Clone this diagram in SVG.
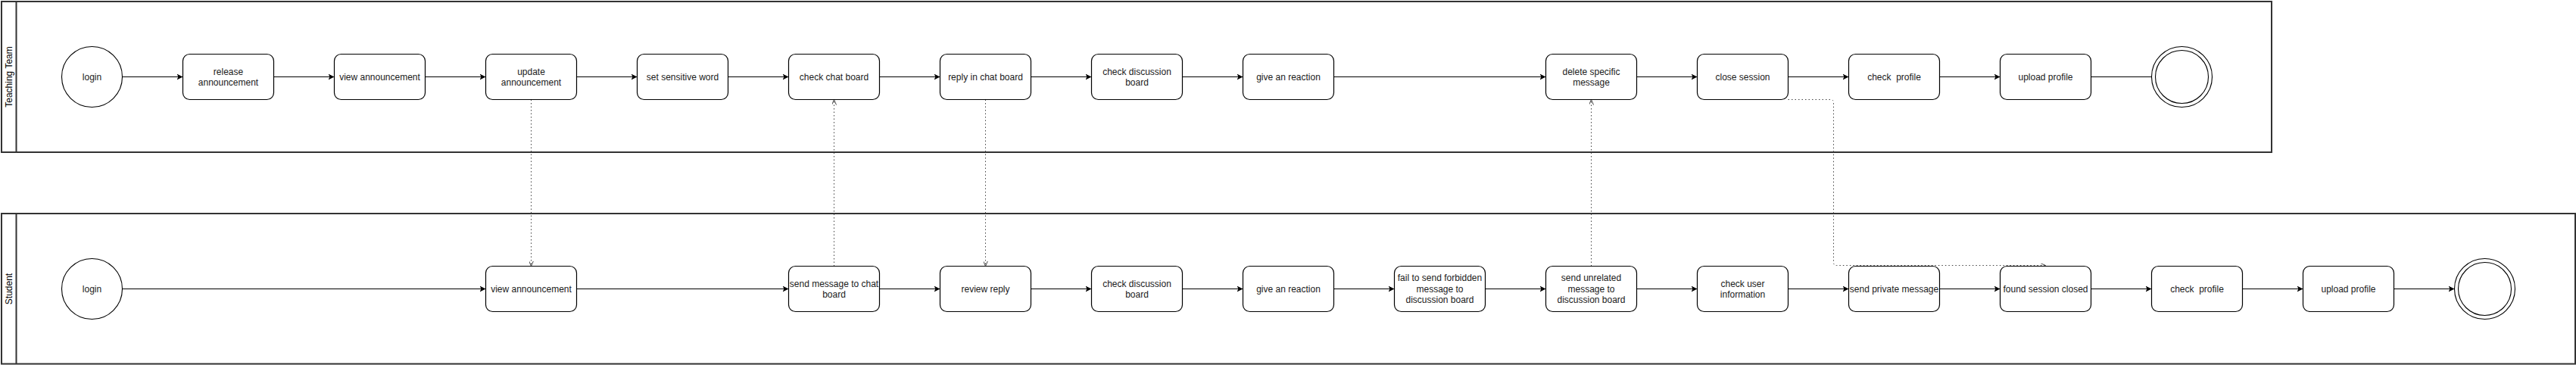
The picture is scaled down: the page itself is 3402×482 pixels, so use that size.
<svg xmlns="http://www.w3.org/2000/svg" width="3402" height="482" viewBox="0 0 3402 482">
<style>
.lane{fill:#fff;stroke:#333;stroke-width:2}
.hdr{fill:none;stroke:#333;stroke-width:2}
.box{fill:#fff;stroke:#000;stroke-width:1.2}
.circ{fill:#fff;stroke:#000;stroke-width:1.1}
.t{font-family:"Liberation Sans",Arial,Helvetica,sans-serif;font-size:12px;fill:#1a1a1a;text-anchor:middle;white-space:pre}
.lt{font-family:"Liberation Sans",Arial,Helvetica,sans-serif;font-size:12px;fill:#000;text-anchor:middle}
.flow{fill:none;stroke:#000;stroke-width:1.2;marker-end:url(#arr)}
.plain{fill:none;stroke:#000;stroke-width:1.2}
.dot{fill:none;stroke:#444;stroke-width:1;stroke-dasharray:1.5 3;marker-end:url(#open)}
</style>
<defs>
<marker id="arr" viewBox="0 0 8 8" refX="8" refY="4" markerWidth="8" markerHeight="8" markerUnits="userSpaceOnUse" orient="auto">
<path d="M0,0 L8,4 L0,8 L2,4 Z" fill="#000"/>
</marker>
<marker id="open" viewBox="0 0 7 6" refX="7" refY="3" markerWidth="7" markerHeight="6" markerUnits="userSpaceOnUse" orient="auto">
<path d="M0,0 L7,3 L0,6" fill="none" stroke="#444" stroke-width="1"/>
</marker>
</defs>

<g id="lane-teaching">
<rect class="lane" x="2" y="2" width="2998" height="199"/>
<line class="hdr" x1="21.5" y1="2" x2="21.5" y2="201"/>
<text class="lt" transform="translate(16,101.5) rotate(-90)">Teaching Team</text>
</g>
<g id="lane-student">
<rect class="lane" x="2" y="282" width="3399" height="198.5"/>
<line class="hdr" x1="21.5" y1="282" x2="21.5" y2="480.5"/>
<text class="lt" transform="translate(16,381.5) rotate(-90)">Student</text>
</g>

<g id="connectors">
<path class="flow" d="M161.5,101.5 H241.5"/>
<path class="flow" d="M361.5,101.5 H441.5"/>
<path class="flow" d="M561.5,101.5 H641.5"/>
<path class="flow" d="M761.5,101.5 H841.5"/>
<path class="flow" d="M961.5,101.5 H1041.5"/>
<path class="flow" d="M1161.5,101.5 H1241.5"/>
<path class="flow" d="M1361.5,101.5 H1441.5"/>
<path class="flow" d="M1561.5,101.5 H1641.5"/>
<path class="flow" d="M1761.5,101.5 H2041.5"/>
<path class="flow" d="M2161.5,101.5 H2241.5"/>
<path class="flow" d="M2361.5,101.5 H2441.5"/>
<path class="flow" d="M2561.5,101.5 H2641.5"/>
<path class="plain" d="M2761.5,101.5 H2841.5"/>
<path class="flow" d="M161.5,381.5 H641.5"/>
<path class="flow" d="M761.5,381.5 H1041.5"/>
<path class="flow" d="M1161.5,381.5 H1241.5"/>
<path class="flow" d="M1361.5,381.5 H1441.5"/>
<path class="flow" d="M1561.5,381.5 H1641.5"/>
<path class="flow" d="M1761.5,381.5 H1841.5"/>
<path class="flow" d="M1961.5,381.5 H2041.5"/>
<path class="flow" d="M2161.5,381.5 H2241.5"/>
<path class="flow" d="M2361.5,381.5 H2441.5"/>
<path class="flow" d="M2561.5,381.5 H2641.5"/>
<path class="flow" d="M2761.5,381.5 H2841.5"/>
<path class="flow" d="M2961.5,381.5 H3041.5"/>
<path class="flow" d="M3161.5,381.5 H3241.5"/>
<path class="dot" d="M701.5,131.5 V351.5"/>
<path class="dot" d="M1101.5,351.5 V131.5"/>
<path class="dot" d="M1301.5,131.5 V351.5"/>
<path class="dot" d="M2101.5,351.5 V131.5"/>
<path class="dot" d="M2361.5,131.5 H2417.5 Q2421.5,131.5 2421.5,135.5 V346.5 Q2421.5,350.5 2425.5,350.5 H2701.5"/>
</g>

<g id="t-login"><circle class="circ" cx="121.5" cy="101.5" r="40"/><text class="t" x="121.5" y="105.8">login</text></g>
<g id="t-release"><rect class="box" x="241.5" y="71.5" width="120" height="60" rx="9"/><text class="t" x="301.5" y="98.5">release</text><text class="t" x="301.5" y="113">announcement</text></g>
<g id="t-view"><rect class="box" x="441.5" y="71.5" width="120" height="60" rx="9"/><text class="t" x="501.5" y="105.8">view announcement</text></g>
<g id="t-update"><rect class="box" x="641.5" y="71.5" width="120" height="60" rx="9"/><text class="t" x="701.5" y="98.5">update</text><text class="t" x="701.5" y="113">announcement</text></g>
<g id="t-sensitive"><rect class="box" x="841.5" y="71.5" width="120" height="60" rx="9"/><text class="t" x="901.5" y="105.8">set sensitive word</text></g>
<g id="t-checkchat"><rect class="box" x="1041.5" y="71.5" width="120" height="60" rx="9"/><text class="t" x="1101.5" y="105.8">check chat board</text></g>
<g id="t-reply"><rect class="box" x="1241.5" y="71.5" width="120" height="60" rx="9"/><text class="t" x="1301.5" y="105.8">reply in chat board</text></g>
<g id="t-checkdisc"><rect class="box" x="1441.5" y="71.5" width="120" height="60" rx="9"/><text class="t" x="1501.5" y="98.5">check discussion</text><text class="t" x="1501.5" y="113">board</text></g>
<g id="t-reaction"><rect class="box" x="1641.5" y="71.5" width="120" height="60" rx="9"/><text class="t" x="1701.5" y="105.8">give an reaction</text></g>
<g id="t-delete"><rect class="box" x="2041.5" y="71.5" width="120" height="60" rx="9"/><text class="t" x="2101.5" y="98.5">delete specific</text><text class="t" x="2101.5" y="113">message</text></g>
<g id="t-close"><rect class="box" x="2241.5" y="71.5" width="120" height="60" rx="9"/><text class="t" x="2301.5" y="105.8">close session</text></g>
<g id="t-checkprofile"><rect class="box" x="2441.5" y="71.5" width="120" height="60" rx="9"/><text class="t" x="2501.5" y="105.8">check  profile</text></g>
<g id="t-upload"><rect class="box" x="2641.5" y="71.5" width="120" height="60" rx="9"/><text class="t" x="2701.5" y="105.8">upload profile</text></g>
<g id="t-end"><circle class="circ" cx="2881.5" cy="101.5" r="40"/><circle class="circ" cx="2881.5" cy="101.5" r="35"/></g>

<g id="s-login"><circle class="circ" cx="121.5" cy="381.5" r="40"/><text class="t" x="121.5" y="385.8">login</text></g>
<g id="s-view"><rect class="box" x="641.5" y="351.5" width="120" height="60" rx="9"/><text class="t" x="701.5" y="385.8">view announcement</text></g>
<g id="s-send"><rect class="box" x="1041.5" y="351.5" width="120" height="60" rx="9"/><text class="t" x="1101.5" y="378.5">send message to chat</text><text class="t" x="1101.5" y="393">board</text></g>
<g id="s-review"><rect class="box" x="1241.5" y="351.5" width="120" height="60" rx="9"/><text class="t" x="1301.5" y="385.8">review reply</text></g>
<g id="s-checkdisc"><rect class="box" x="1441.5" y="351.5" width="120" height="60" rx="9"/><text class="t" x="1501.5" y="378.5">check discussion</text><text class="t" x="1501.5" y="393">board</text></g>
<g id="s-reaction"><rect class="box" x="1641.5" y="351.5" width="120" height="60" rx="9"/><text class="t" x="1701.5" y="385.8">give an reaction</text></g>
<g id="s-fail"><rect class="box" x="1841.5" y="351.5" width="120" height="60" rx="9"/><text class="t" x="1901.5" y="371">fail to send forbidden</text><text class="t" x="1901.5" y="385.5">message to</text><text class="t" x="1901.5" y="400">discussion board</text></g>
<g id="s-unrelated"><rect class="box" x="2041.5" y="351.5" width="120" height="60" rx="9"/><text class="t" x="2101.5" y="371">send unrelated</text><text class="t" x="2101.5" y="385.5">message to</text><text class="t" x="2101.5" y="400">discussion board</text></g>
<g id="s-userinfo"><rect class="box" x="2241.5" y="351.5" width="120" height="60" rx="9"/><text class="t" x="2301.5" y="378.5">check user</text><text class="t" x="2301.5" y="393">information</text></g>
<g id="s-private"><rect class="box" x="2441.5" y="351.5" width="120" height="60" rx="9"/><text class="t" x="2501.5" y="385.8">send private message</text></g>
<g id="s-found"><rect class="box" x="2641.5" y="351.5" width="120" height="60" rx="9"/><text class="t" x="2701.5" y="385.8">found session closed</text></g>
<g id="s-checkprofile"><rect class="box" x="2841.5" y="351.5" width="120" height="60" rx="9"/><text class="t" x="2901.5" y="385.8">check  profile</text></g>
<g id="s-upload"><rect class="box" x="3041.5" y="351.5" width="120" height="60" rx="9"/><text class="t" x="3101.5" y="385.8">upload profile</text></g>
<g id="s-end"><circle class="circ" cx="3281.5" cy="381.5" r="40"/><circle class="circ" cx="3281.5" cy="381.5" r="35"/></g>
</svg>
